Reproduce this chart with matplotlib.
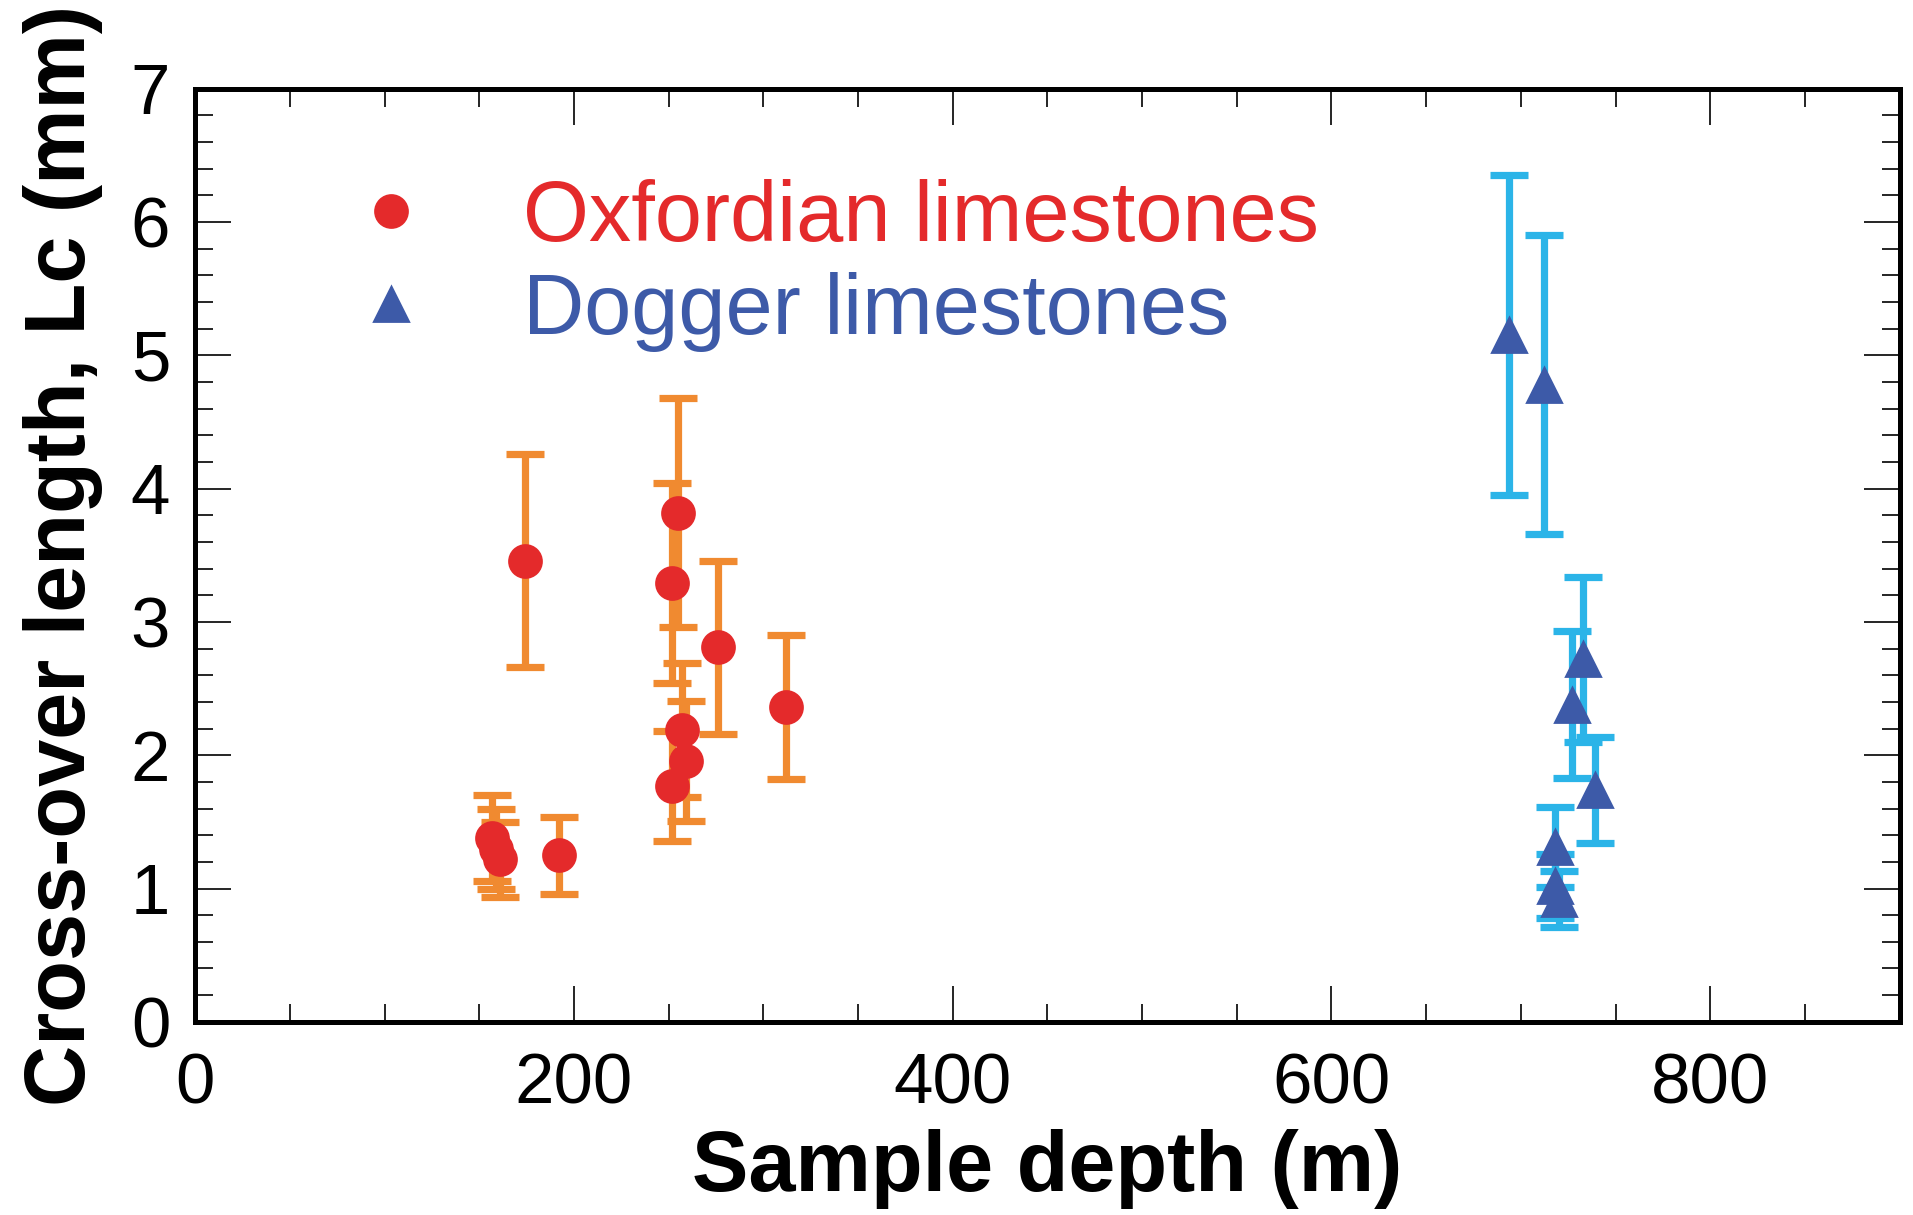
import matplotlib
matplotlib.use("Agg")
import matplotlib.pyplot as plt
from matplotlib.lines import Line2D
from matplotlib.ticker import MultipleLocator

plt.rcParams['font.family'] = ['Liberation Sans', 'DejaVu Sans']

# Oxfordian limestones (red circles, orange error bars)
ox_depth = [157, 159, 161, 174, 192, 252, 255, 257, 259, 252, 276, 312]
ox_lc = [1.38, 1.30, 1.22, 3.46, 1.25, 3.29, 3.82, 2.19, 1.96, 1.77, 2.81, 2.36]
ox_err = [0.32, 0.30, 0.28, 0.80, 0.29, 0.75, 0.86, 0.50, 0.45, 0.41, 0.65, 0.54]

# Dogger limestones (blue triangles, light blue error bars)
dg_depth = [694, 712, 733, 727, 739, 718, 718, 720]
dg_lc = [5.15, 4.78, 2.72, 2.38, 1.74, 1.31, 1.02, 0.92]
dg_err = [1.20, 1.12, 0.62, 0.55, 0.40, 0.30, 0.24, 0.21]

red = '#E42A2B'
orange = '#F08A30'
blue = '#3D5AA8'
lightblue = '#2BB4E8'

fig = plt.figure(figsize=(9.565, 6.075), dpi=200)
ax = fig.add_axes([0.102, 0.159, 0.891, 0.768])

ax.errorbar(ox_depth, ox_lc, yerr=ox_err, fmt='none', ecolor=orange,
            elinewidth=2.6, capsize=7, capthick=2.6, zorder=2)
ax.plot(ox_depth, ox_lc, 'o', color=red, markersize=11.5, zorder=3)

ax.errorbar(dg_depth, dg_lc, yerr=dg_err, fmt='none', ecolor=lightblue,
            elinewidth=2.6, capsize=7, capthick=2.6, zorder=2)
ax.plot(dg_depth, dg_lc, '^', color=blue, markersize=12, zorder=3)

ax.set_xlim(0, 900)
ax.set_ylim(0, 7)
ax.xaxis.set_major_locator(MultipleLocator(200))
ax.xaxis.set_minor_locator(MultipleLocator(50))
ax.yaxis.set_major_locator(MultipleLocator(1))
ax.yaxis.set_minor_locator(MultipleLocator(0.2))
ax.tick_params(which='both', direction='in', top=True, right=True, width=0.6,
               labelsize=25.5, colors='black')
ax.tick_params(which='major', length=13)
ax.tick_params(which='minor', length=6.5)
ax.tick_params(axis='x', pad=11)
ax.tick_params(axis='y', pad=9)
for s in ax.spines.values():
    s.set_linewidth(1.8)

ax.set_xlabel('Sample depth (m)', fontsize=30.5, fontweight='bold', labelpad=4)
ax.set_ylabel('Cross-over length, Lc (mm)', fontsize=30.5, fontweight='bold', labelpad=10)

handles = [Line2D([], [], marker='o', linestyle='none', color=red, markersize=11.5),
           Line2D([], [], marker='^', linestyle='none', color=blue, markersize=12)]
ax.legend(handles, ['Oxfordian limestones', 'Dogger limestones'],
          loc='upper left', bbox_to_anchor=(0.058, 0.985), frameon=False,
          fontsize=30.5, labelcolor=[red, blue], handlelength=0.5,
          handletextpad=1.3, labelspacing=0.15)

fig.savefig('out.png', dpi=200)
